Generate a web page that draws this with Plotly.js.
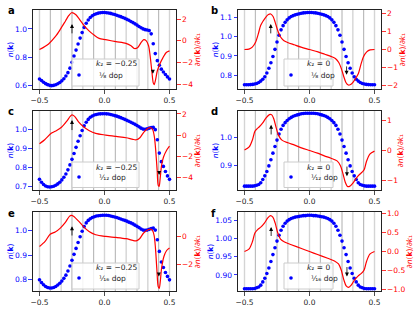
<!DOCTYPE html>
<html><head><meta charset="utf-8">
<script src="https://cdn.plot.ly/plotly-3.0.1.min.js"></script>
<style>html,body{margin:0;padding:0;background:#fff}#chart{width:415px;height:312px}</style>
</head><body><div id="chart"></div>
<script>
// k1 grid of the blue n(k) points
const kGrid = [-0.5,-0.4844,-0.4688,-0.4531,-0.4375,-0.4219,-0.4063,-0.3906,-0.375,-0.3594,-0.3438,-0.3281,-0.3125,-0.2969,-0.2813,-0.2656,-0.25,-0.2344,-0.2188,-0.2031,-0.1875,-0.1719,-0.1563,-0.1406,-0.125,-0.1094,-0.0938,-0.0781,-0.0625,-0.0469,-0.0313,-0.0156,0,
0.0156,0.0313,0.0469,0.0625,0.0781,0.0938,0.1094,0.125,0.1406,0.1563,0.1719,0.1875,0.2031,0.2188,0.2344,0.25,0.2656,0.2813,0.2969,0.3125,0.3281,0.3438,0.3594,0.375,0.3906,0.4063,0.4219,0.4375,0.4531,0.4688,0.4844,0.5];

// n(k) per panel
const nA = [0.645,0.634,0.622,0.612,0.605,0.600,0.598,0.600,0.604,0.611,0.620,0.632,0.647,0.666,0.690,0.722,0.763,0.808,0.850,0.893,0.935,0.974,1.010,1.040,1.063,1.081,1.093,1.102,1.108,1.112,1.115,1.116,1.116,
1.115,1.113,1.110,1.106,1.102,1.097,1.092,1.087,1.081,1.075,1.068,1.061,1.053,1.045,1.036,1.027,1.017,1.008,1.000,0.995,0.992,0.988,0.965,0.895,0.825,0.775,0.742,0.715,0.695,0.677,0.660,0.645];
const nB = [0.750,0.750,0.750,0.751,0.752,0.754,0.757,0.762,0.769,0.779,0.792,0.811,0.836,0.864,0.897,0.934,0.972,1.007,1.035,1.057,1.074,1.087,1.097,1.104,1.109,1.113,1.116,1.119,1.121,1.123,1.124,1.125,1.125,
1.125,1.124,1.123,1.121,1.119,1.116,1.113,1.109,1.104,1.097,1.087,1.074,1.057,1.035,1.007,0.972,0.934,0.897,0.864,0.836,0.811,0.792,0.779,0.769,0.762,0.757,0.754,0.752,0.751,0.750,0.750,0.750];
const nC = [0.737,0.722,0.710,0.702,0.698,0.697,0.698,0.701,0.706,0.713,0.722,0.734,0.748,0.765,0.787,0.813,0.842,0.873,0.905,0.937,0.966,0.994,1.018,1.037,1.052,1.063,1.070,1.075,1.078,1.080,1.081,1.082,1.082,
1.081,1.080,1.078,1.075,1.072,1.069,1.065,1.061,1.057,1.052,1.047,1.042,1.037,1.032,1.026,1.020,1.013,1.006,1.001,1.000,1.002,1.006,1.009,1.010,0.998,0.945,0.875,0.830,0.805,0.778,0.755,0.737];
const nD = [0.825,0.825,0.825,0.825,0.825,0.826,0.828,0.831,0.837,0.849,0.862,0.878,0.898,0.920,0.944,0.968,0.991,1.013,1.030,1.044,1.054,1.062,1.068,1.073,1.077,1.080,1.082,1.084,1.086,1.087,1.088,1.088,1.088,
1.088,1.088,1.087,1.086,1.084,1.082,1.080,1.077,1.073,1.068,1.062,1.054,1.044,1.030,1.013,0.991,0.968,0.944,0.920,0.898,0.878,0.862,0.849,0.837,0.831,0.828,0.826,0.825,0.825,0.825,0.825,0.825];
const nE = [0.800,0.789,0.780,0.773,0.769,0.767,0.767,0.769,0.773,0.779,0.786,0.795,0.806,0.819,0.836,0.856,0.879,0.903,0.927,0.951,0.974,0.996,1.015,1.030,1.040,1.047,1.052,1.055,1.058,1.059,1.060,1.061,1.061,
1.061,1.060,1.058,1.056,1.054,1.052,1.049,1.046,1.043,1.040,1.037,1.033,1.030,1.026,1.021,1.016,1.011,1.005,1.001,1.000,1.001,1.004,1.007,1.009,1.001,0.962,0.915,0.872,0.850,0.830,0.814,0.800];
const nF = [0.862,0.862,0.862,0.862,0.862,0.863,0.865,0.867,0.872,0.881,0.891,0.904,0.919,0.937,0.956,0.975,0.993,1.009,1.023,1.034,1.042,1.048,1.052,1.055,1.057,1.059,1.060,1.061,1.062,1.063,1.063,1.064,1.064,
1.064,1.063,1.063,1.062,1.061,1.060,1.059,1.057,1.055,1.052,1.048,1.042,1.034,1.023,1.009,0.993,0.975,0.956,0.937,0.919,0.904,0.891,0.881,0.872,0.867,0.865,0.863,0.862,0.862,0.862,0.862,0.862];

// dn/dk1 per panel (k positions and values)
const krA = [-0.5,-0.43,-0.377,-0.339,-0.3,-0.274,-0.253,-0.222,-0.196,-0.158,-0.119,-0.08,-0.041,0.01,0.088,0.165,0.204,0.23,0.256,0.282,0.302,0.32,0.339,0.351,0.364,0.375,0.382,0.393,0.406,0.424,0.45,0.475,0.5];
const rA  = [-0.82,-0.30,0.39,1.06,1.82,2.33,2.58,2.42,2.03,1.42,0.91,0.52,0.21,0.09,-0.09,-0.25,-0.47,-0.72,-0.62,-0.16,0.09,0.0,-0.47,-1.4,-2.8,-3.9,-4.06,-3.6,-2.8,-2.19,-1.56,-1.09,-0.94];
const krB = [-0.5,-0.466,-0.44,-0.415,-0.394,-0.376,-0.358,-0.337,-0.316,-0.298,-0.28,-0.264,-0.246,-0.225,-0.199,-0.168,-0.117,-0.065,0,0.065,0.117,0.168,0.199,0.225,0.246,0.264,0.28,0.298,0.316,0.337,0.358,0.376,0.394,0.415,0.44,0.466,0.5];
const rB  = [0,0.02,0.13,0.40,0.86,1.32,1.56,1.78,1.93,1.96,1.82,1.50,1.08,0.72,0.50,0.39,0.26,0.13,0,-0.13,-0.26,-0.39,-0.50,-0.72,-1.08,-1.50,-1.82,-1.96,-1.93,-1.78,-1.56,-1.32,-0.86,-0.40,-0.13,-0.02,0];
const krC = [-0.5,-0.46,-0.407,-0.368,-0.329,-0.29,-0.264,-0.25,-0.23,-0.198,-0.159,-0.12,-0.068,0.01,0.089,0.167,0.219,0.245,0.272,0.303,0.337,0.355,0.371,0.384,0.394,0.405,0.413,0.42,0.428,0.439,0.454,0.48,0.5];
const rC  = [-0.82,-0.44,0.19,0.44,0.76,1.32,1.77,1.92,1.77,1.23,0.76,0.44,0.16,0,-0.13,-0.25,-0.41,-0.44,-0.25,0.28,0.66,0.69,0.5,-0.19,-1.45,-3.34,-4.76,-4.86,-4.13,-2.87,-2.08,-1.39,-1.04];
const krD = [-0.5,-0.464,-0.438,-0.42,-0.404,-0.386,-0.36,-0.334,-0.308,-0.29,-0.275,-0.256,-0.238,-0.212,-0.166,-0.114,-0.062,0,0.062,0.114,0.166,0.212,0.238,0.256,0.275,0.29,0.308,0.334,0.36,0.386,0.404,0.42,0.438,0.464,0.5];
const rD  = [0.02,0.12,0.37,0.65,0.73,0.80,0.93,1.10,1.21,1.20,1.07,0.76,0.51,0.35,0.26,0.18,0.09,0,-0.09,-0.18,-0.26,-0.35,-0.51,-0.76,-1.07,-1.20,-1.21,-1.10,-0.93,-0.80,-0.73,-0.65,-0.37,-0.12,-0.02];
const krE = [-0.5,-0.457,-0.418,-0.379,-0.34,-0.301,-0.27,-0.255,-0.236,-0.197,-0.158,-0.119,-0.068,0.01,0.088,0.166,0.218,0.244,0.27,0.301,0.335,0.353,0.369,0.382,0.392,0.403,0.413,0.421,0.429,0.439,0.457,0.478,0.5];
const rE  = [-0.71,-0.35,0.16,0.31,0.59,0.99,1.41,1.48,1.41,1.06,0.66,0.35,0.12,0,-0.07,-0.16,-0.28,-0.31,-0.16,0.24,0.47,0.52,0.42,0.05,-0.82,-2.35,-3.53,-3.65,-3.18,-2.24,-1.41,-0.99,-0.82];
const krF = [-0.5,-0.464,-0.438,-0.42,-0.399,-0.373,-0.347,-0.321,-0.301,-0.282,-0.264,-0.244,-0.223,-0.192,-0.14,-0.062,0,0.062,0.14,0.192,0.223,0.244,0.264,0.282,0.301,0.321,0.347,0.373,0.399,0.42,0.438,0.464,0.5];
const rF  = [0,0.07,0.27,0.49,0.58,0.65,0.75,0.89,0.95,0.91,0.75,0.49,0.33,0.25,0.18,0.08,0,-0.08,-0.18,-0.25,-0.33,-0.49,-0.75,-0.91,-0.95,-0.89,-0.75,-0.65,-0.58,-0.49,-0.27,-0.07,0];

// labels
const panelLetters = ['a','b','c','d','e','f'];
const k2Values = ['−0.25','0','−0.25','0','−0.25','0'];
const dopLabels = ['¹⁄₈ dop','¹⁄₈ dop','¹⁄₁₂ dop','¹⁄₁₂ dop','¹⁄₁₆ dop','¹⁄₁₆ dop'];

// ticks
const xTicks = [-0.5, 0, 0.5];
const leftTicks = [[0.6,0.8,1.0],[0.8,0.9,1.0,1.1],[0.7,0.8,0.9,1.0],[0.9,1.0],[0.8,0.9,1.0],[0.90,0.95,1.00,1.05]];
const leftFormats = ['.1f','.1f','.1f','.1f','.1f','.2f'];
const rightTicks = [[-4,-2,0,2],[-2,-1,0,1,2],[-4,-2,0,2],[-1,0,1],[-2,0],[-1,-0.5,0,0.5,1]];
const rightFormats = ['d','d','d','d','d','.1f'];
const leftRanges = [[0.574,1.134],[0.728,1.138],[0.681,1.096],[0.811,1.096],[0.755,1.074],[0.856,1.073]];
const rightRanges = [[-4.46,2.83],[-2.18,2.18],[-5.2,2.28],[-1.33,1.33],[-3.84,1.72],[-1.045,1.045]];

// vertical reference lines at k1 = m/12
const vLines = [-0.5,-0.4167,-0.3333,-0.25,-0.1667,-0.0833,0,0.0833,0.1667,0.25,0.3333,0.4167,0.5];

// arrows: k position, tail n, head n (left axis)
const arrowUpK = [-0.25,-0.298,-0.25,-0.295,-0.25,-0.295];
const arrowUpFrom = [0.958,1.009,0.988,1.006,0.973,1.003];
const arrowUpTo = [1.035,1.066,1.049,1.046,1.016,1.032];
const arrowDnK = [0.372,0.285,0.42,0.288,0.418,0.288];
const arrowDnFrom = [0.715,0.853,0.785,0.901,0.832,0.926];
const arrowDnTo = [0.682,0.802,0.760,0.861,0.814,0.896];

const nSeries = [nA,nB,nC,nD,nE,nF];
const rkSeries = [krA,krB,krC,krD,krE,krF];
const rSeries = [rA,rB,rC,rD,rE,rF];

const FONT = 'DejaVu Sans, sans-serif';
const FS = 7.5;
const W = 415, H = 312;
const xDoms = [[0.0795,0.4241],[0.5735,0.9181]];
const yDoms = [[0.7147,0.9679],[0.391,0.6442],[0.0673,0.3205]];
// legend box geometry (px)
const boxX = [[72,139],[284,333]];
const boxY = [[59,86],[162,187.5],[263,289]];
const titleX = [94,305];
const titleY = [64,167.5,267.5];
const itemY = [75,177,278];
const markerX = [79,291];
const letterLeftPx = [6,209];
const letterMidPx = [10,111.5,213.5];

const traces = [];
const layout = {
  width:W, height:H, margin:{l:0,r:0,t:0,b:0},
  paper_bgcolor:'#fff', plot_bgcolor:'#fff',
  font:{family:FONT, size:FS, color:'#222'},
  showlegend:true, shapes:[], annotations:[]
};

for (let p=0; p<6; p++) {
  const col = p%2, row = Math.floor(p/2);
  const xid = p===0 ? 'x' : 'x'+(p+1);
  const ylid = p===0 ? 'y' : 'y'+(2*p+1);
  const yrid = 'y'+(2*p+2);
  const xname = p===0 ? 'xaxis' : 'xaxis'+(p+1);
  const ylname = p===0 ? 'yaxis' : 'yaxis'+(2*p+1);
  const yrname = 'yaxis'+(2*p+2);
  const legName = p===0 ? 'legend' : 'legend'+(p+1);

  layout[xname] = {domain:xDoms[col], anchor:ylid, range:[-0.55,0.55], tickvals:xTicks, tickformat:'.1f',
    ticks:'outside', ticklen:3.5, tickwidth:0.8, tickcolor:'#222', showline:true, mirror:true,
    linecolor:'#222', linewidth:1, showgrid:false, zeroline:false, automargin:false,
    tickfont:{family:FONT,size:FS,color:'#222'}};
  layout[ylname] = {domain:yDoms[row], anchor:xid, range:leftRanges[p], tickvals:leftTicks[p], tickformat:leftFormats[p],
    ticks:'outside', ticklen:3.5, tickwidth:0.8, tickcolor:'blue', showline:true, linecolor:'#222', linewidth:1,
    showgrid:false, zeroline:false, automargin:false, tickfont:{family:FONT,size:FS,color:'blue'},
    title:{text:'<i>n</i>(<b>k</b>)', font:{family:FONT,size:FS,color:'blue'}, standoff:0}};
  layout[yrname] = {overlaying:ylid, side:'right', anchor:xid, range:rightRanges[p], tickvals:rightTicks[p], tickformat:rightFormats[p],
    ticks:'outside', ticklen:3.5, tickwidth:0.8, tickcolor:'red', showline:true, linecolor:'#222', linewidth:1,
    showgrid:false, zeroline:false, automargin:false, tickfont:{family:FONT,size:FS,color:'red'},
    title:{text:'∂<i>n</i>(<b>k</b>)/∂<i>k</i>₁', font:{family:FONT,size:FS,color:'red'}, standoff:0}};

  // legend: real legend entry, framed by a box with the k2 title
  layout[legName] = {x:(markerX[col]-20)/W, y:1-itemY[row]/H, xanchor:'left', yanchor:'middle',
    bgcolor:'rgba(0,0,0,0)', borderwidth:0, font:{family:FONT,size:FS,color:'#222'}, tracegroupgap:0};
  layout.shapes.push({type:'rect', xref:'paper', yref:'paper', layer:'above',
    x0:boxX[col][0]/W, x1:boxX[col][1]/W, y0:1-boxY[row][0]/H, y1:1-boxY[row][1]/H,
    fillcolor:'rgba(255,255,255,0.8)', line:{color:'#cccccc', width:1}});
  layout.annotations.push({xref:'paper', yref:'paper', x:titleX[col]/W, y:1-titleY[row]/H,
    xanchor:'left', yanchor:'middle', showarrow:false, text:'<i>k</i>₂ = '+k2Values[p],
    font:{family:FONT,size:FS,color:'#222'}});

  traces.push({type:'scatter', mode:'markers', x:kGrid, y:nSeries[p], xaxis:xid, yaxis:ylid,
    marker:{color:'blue', size:3.6}, name:dopLabels[p], legend:legName, showlegend:true});
  traces.push({type:'scatter', mode:'lines', x:rkSeries[p], y:rSeries[p], xaxis:xid, yaxis:yrid,
    line:{color:'red', width:1.2, shape:'spline', smoothing:0.8}, showlegend:false});

  vLines.forEach((k,i)=>{
    layout.shapes.push({type:'line', xref:xid, yref:ylid+' domain', x0:k, x1:k, y0:0, y1:1, layer:'below',
      line:{color: i%2 ? '#9a9a9a' : '#d4d4d4', width: i%2 ? 0.8 : 1.4}});
  });

  layout.annotations.push({xref:xid, yref:ylid, x:arrowUpK[p], y:arrowUpTo[p], axref:xid, ayref:ylid,
    ax:arrowUpK[p], ay:arrowUpFrom[p], text:'', showarrow:true, arrowhead:2, arrowsize:1, arrowwidth:0.8, arrowcolor:'black', standoff:0, startstandoff:0});
  layout.annotations.push({xref:xid, yref:ylid, x:arrowDnK[p], y:arrowDnTo[p], axref:xid, ayref:ylid,
    ax:arrowDnK[p], ay:arrowDnFrom[p], text:'', showarrow:true, arrowhead:2, arrowsize:1, arrowwidth:0.8, arrowcolor:'black', standoff:0, startstandoff:0});
  layout.annotations.push({xref:'paper', yref:'paper', x:letterLeftPx[col]/W, y:1-letterMidPx[row]/H,
    xanchor:'left', yanchor:'middle', text:'<b>'+panelLetters[p]+'</b>', showarrow:false,
    font:{family:FONT, size:10, color:'#000'}});
}

Plotly.newPlot('chart', traces, layout, {staticPlot:true, displayModeBar:false});
</script>
</body></html>
